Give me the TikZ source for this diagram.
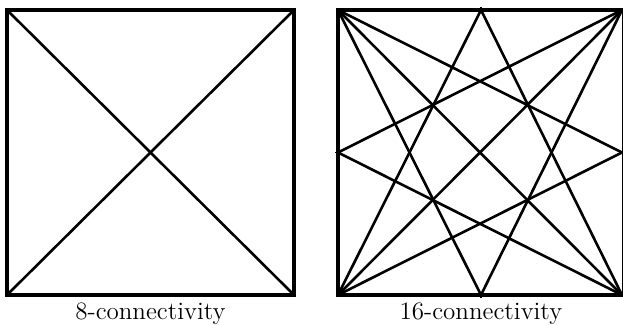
\documentclass[tikz,border=0pt]{standalone}
\begin{document}
\begin{tikzpicture}[x=0.5pt,y=-0.5pt,
  frame/.style={line width=1.6pt},
  link/.style={line width=1.3pt},
  tick/.style={line width=0.6pt},
  caption/.style={font=\fontsize{12.5}{15}\selectfont, inner sep=0pt, anchor=base}]
\useasboundingbox (0,0) rectangle (623,325);
\clip (0,0) rectangle (623,325);
% left square
\coordinate (aTL) at (7,10);
\coordinate (aTR) at (294,10);
\coordinate (aBL) at (7,295);
\coordinate (aBR) at (294,295);
\draw[frame] (aTL) rectangle (aBR);
\draw[link] (aTL) -- (aBR);
\draw[link] (aTR) -- (aBL);
\node[caption] (c1) at (150.5,320) {8-connectivity};
% right square
\coordinate (bTL) at (338,10);
\coordinate (bTR) at (624,10);
\coordinate (bBL) at (338,295);
\coordinate (bBR) at (624,295);
\coordinate (bT) at (481,10);
\coordinate (bB) at (481,295);
\coordinate (bL) at (338,152.5);
\coordinate (bR) at (622,152.5);
\draw[frame] (bTL) rectangle (bBR);
\draw[link] (bTL) -- (622,295);
\draw[link] (622,10) -- (bBL);
\draw[link] (bT) -- (bBL);
\draw[link] (bT) -- (622,295);
\draw[link] (bB) -- (bTL);
\draw[link] (bB) -- (622,10);
\draw[link] (bL) -- (622,10);
\draw[link] (bL) -- (622,295);
\draw[link] (bR) -- (bTL);
\draw[link] (bR) -- (bBL);
\draw[tick] (bT) -- ++(0,-3);
\draw[tick] (bB) -- ++(0,3);
\draw[tick] (bL) -- ++(-3,0);
\node[caption] (c2) at (481,320) {16-connectivity};
\end{tikzpicture}
\end{document}
